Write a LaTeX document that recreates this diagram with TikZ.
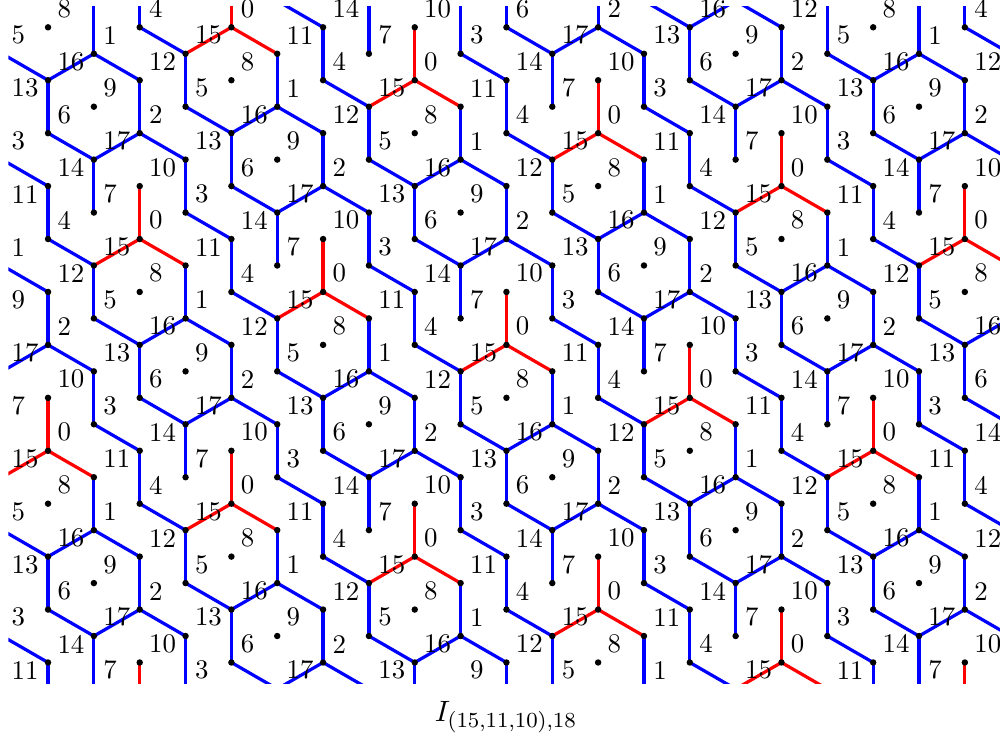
\documentclass[tikz,border=0pt]{standalone}
\usepackage{tikz}

\begin{document}
\begin{tikzpicture}[
    % Styles
    edge/.style={blue, very thick},
    redge/.style={red, very thick},
    pt/.style={fill=black},
    lab/.style={above right},
    title/.style={font=\fontsize{10.95}{13.6}\selectfont}
  ]
  \useasboundingbox (0,0) rectangle (13.089,-9.647);
  \clip (0,0) rectangle (13.089,-9.647);
  % 1. Lattice points, columns 0.6cm apart, label 0 sits at (p0_0)
  \foreach \i in {-5,...,17} {
    \foreach \j in {-11,...,16} {
      \coordinate (p\i_\j) at ({3.0288+0.6*\i}, {-0.3573-0.34641*\i-0.69282*\j});
    }
  }
  % 2. Edges and dots, cut to the window
  \begin{scope}
    \clip (0.1086,-0.0785) rectangle (13.2,-8.944);
    \foreach \i in {-5,...,16} {
      \foreach \j in {-10,...,15} {
        \pgfmathtruncatemacro\lab{mod(11*\i+8*\j+360,18)}
        \pgfmathtruncatemacro\ii{\i+1}
        \pgfmathtruncatemacro\jd{\j+1}
        \pgfmathtruncatemacro\ju{\j-1}
        % 0 = none, 1 = blue, 2 = red (down, down right, up right)
        \pgfmathtruncatemacro\fd{{0,0,0,0,0,0,0,0,0,0,2,1,1,1,1,1,1,1}[\lab]}
        \pgfmathtruncatemacro\fr{{2,1,1,1,1,1,1,0,0,0,0,0,0,0,0,0,0,0}[\lab]}
        \pgfmathtruncatemacro\fu{{0,0,0,0,0,0,0,0,0,0,0,0,0,0,0,2,1,1}[\lab]}
        \ifcase\fd\or \draw[edge] (p\i_\j) -- (p\i_\jd);
          \or \draw[redge] (p\i_\j) -- (p\i_\jd); \fi
        \ifcase\fr\or \draw[edge] (p\i_\j) -- (p\ii_\j);
          \or \draw[redge] (p\i_\j) -- (p\ii_\j); \fi
        \ifcase\fu\or \draw[edge] (p\i_\j) -- (p\ii_\ju);
          \or \draw[redge] (p\i_\j) -- (p\ii_\ju); \fi
      }
    }
    \foreach \i in {-5,...,17} {
      \foreach \j in {-11,...,16} {
        \fill[pt] (p\i_\j) circle (1.2pt);
      }
    }
  \end{scope}
  % 3. Labels
  \foreach \i in {-5,...,17} {
    \foreach \j in {-11,...,16} {
      \pgfmathtruncatemacro\lab{mod(11*\i+8*\j+360,18)}
      \pgfmathtruncatemacro\low{\i+2*\j}
      \ifnum\low<26
        \node[lab] (l\i_\j) at (p\i_\j) {\lab};
      \fi
    }
  }
  % 4. Caption
  \node[title, anchor=base] (cap) at (6.622,-9.446) {$I_{(15,11,10),18}$};
\end{tikzpicture}
\end{document}
